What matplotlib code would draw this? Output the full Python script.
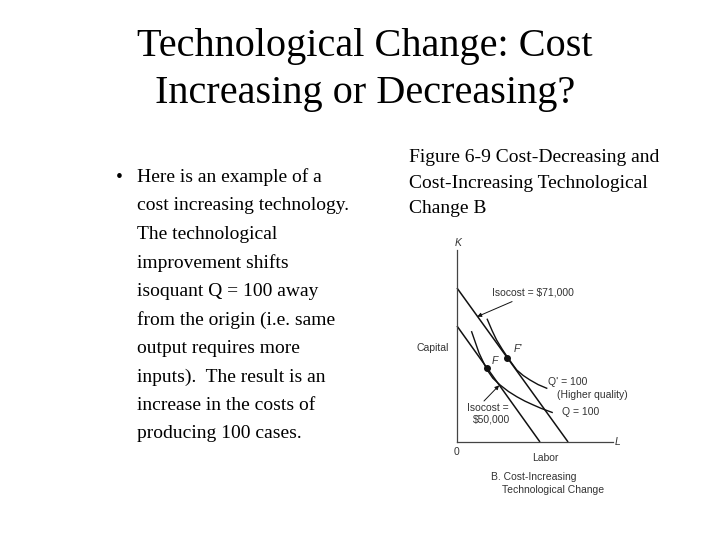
import matplotlib
matplotlib.use("Agg")
import matplotlib.pyplot as plt

# ---------------- data ----------------
title_lines = ["Technological Change: Cost", "Increasing or Decreasing?"]
bullet_lines = ["Here is an example of a", "cost increasing technology.", "The technological",
                "improvement shifts", "isoquant Q = 100 away", "from the origin (i.e. same",
                "output requires more", "inputs).  The result is an", "increase in the costs of",
                "producing 100 cases."]
caption_lines = ["Figure 6-9 Cost-Decreasing and", "Cost-Increasing Technological", "Change B"]

# isocost lines: (labor intercept, capital intercept)
iso71_L = [0, 71.2]
iso71_K = [80.2, 0]
iso50_L = [0, 53.2]
iso50_K = [60.4, 0]

# isoquants
q_L = [9.4, 14.1, 19.0, 23.0, 27.6, 33.0, 38.3, 43.5, 48.9, 54.0, 61.0]
q_K = [57.4, 46.4, 37.9, 33.2, 29.7, 26.3, 23.6, 21.3, 19.3, 17.5, 15.4]
qp_L = [19.4, 22.5, 25.4, 29.0, 32.2, 35.5, 38.3, 42.5, 46.8, 52.0, 57.5]
qp_K = [63.9, 58.0, 53.1, 48.3, 44.4, 40.6, 37.5, 34.6, 32.3, 29.9, 28.0]

# tangency points
F_pt = (19.0, 38.3)
Fp_pt = (32.2, 44.0)

W, H = 720, 540
fig = plt.figure(figsize=(7.2, 5.4), dpi=100)
fig.patch.set_facecolor("white")

def fx(x):
    return x / W

def fy(y):
    return 1 - y / H

serif = "Liberation Serif"
sans = "Liberation Sans"

# title
title_base = [56, 103.5]
for t, yb in zip(title_lines, title_base):
    fig.text(fx(365), fy(yb), t, ha="center", va="baseline", fontsize=29,
             family=serif, color="black")

# bullet
fig.text(fx(116), fy(182), "\u2022", ha="left", va="baseline", fontsize=14,
         family=serif, color="black")
for i, t in enumerate(bullet_lines):
    fig.text(fx(137), fy(182 + 28.5 * i), t, ha="left", va="baseline", fontsize=14,
             family=serif, color="black")

# caption
for i, t in enumerate(caption_lines):
    fig.text(fx(409), fy(162 + 25.5 * i), t, ha="left", va="baseline", fontsize=14,
             family=serif, color="black")

# diagram axes
x0, x1, yb0, yt0 = 457, 613, 442, 250
ax = fig.add_axes([fx(x0), fy(yb0), (x1 - x0) / W, (yb0 - yt0) / H])
ax.set_xlim(0, 100)
ax.set_ylim(0, 100)
ax.set_facecolor("none")
for s in ["top", "right"]:
    ax.spines[s].set_visible(False)
for s in ["left", "bottom"]:
    ax.spines[s].set_color("#444444")
    ax.spines[s].set_linewidth(0.9)
ax.set_xticks([])
ax.set_yticks([])

lc = "#111111"
ax.plot(iso71_L, iso71_K, color=lc, lw=1.1, solid_capstyle="butt", clip_on=False)
ax.plot(iso50_L, iso50_K, color=lc, lw=1.1, solid_capstyle="butt", clip_on=False)
ax.plot(q_L, q_K, color=lc, lw=1.0)
ax.plot(qp_L, qp_K, color=lc, lw=1.0)
ax.plot([F_pt[0], Fp_pt[0]], [F_pt[1], Fp_pt[1]], "o", color=lc, ms=4, ls="none")

tc = "#333333"
fs = 7.5
# axis labels
fig.text(fx(458), fy(243), "K", ha="center", va="center", fontsize=fs, style="italic",
         family=sans, color=tc)
fig.text(fx(618), fy(442), "L", ha="center", va="center", fontsize=fs, style="italic",
         family=sans, color=tc)
fig.text(fx(457), fy(452), "0", ha="center", va="center", fontsize=fs, family=sans, color=tc)
fig.text(fx(545.7), fy(458.3), "Labor", ha="center", va="center", fontsize=fs, family=sans, color=tc)
fig.text(fx(432.3), fy(347.7), "Capital", ha="center", va="center", fontsize=fs, family=sans, color=tc)
fig.text(fx(490.7), fy(476.7), "B. Cost-Increasing", ha="left", va="center", fontsize=fs,
         family=sans, color=tc)
fig.text(fx(501.7), fy(490), "Technological Change", ha="left", va="center", fontsize=fs,
         family=sans, color=tc)

# point labels
fig.text(fx(495), fy(361), "F", ha="center", va="center", fontsize=fs, style="italic",
         family=sans, color=tc)
fig.text(fx(518), fy(349), "F'", ha="center", va="center", fontsize=fs, style="italic",
         family=sans, color=tc)

# curve labels
fig.text(fx(548.3), fy(381.7), "Q' = 100", ha="left", va="center", fontsize=fs,
         family=sans, color=tc)
fig.text(fx(556.7), fy(395), "(Higher quality)", ha="left", va="center", fontsize=fs,
         family=sans, color=tc)
fig.text(fx(561.7), fy(412.3), "Q = 100", ha="left", va="center", fontsize=fs,
         family=sans, color=tc)

# isocost annotations
ax.annotate("Isocost = $71,000", xy=(13.0, 65.3), xycoords="data",
            xytext=(fx(491.7), fy(292.7)), textcoords="figure fraction",
            ha="left", va="center", fontsize=fs, family=sans, color=tc,
            arrowprops=dict(arrowstyle="-|>", color=lc, lw=0.7, mutation_scale=6,
                            shrinkA=2, shrinkB=0))
fig.text(fx(466.7), fy(408.3), "Isocost =", ha="left", va="center", fontsize=fs,
         family=sans, color=tc)
ax.annotate("", xy=(27.0, 29.5), xycoords="data",
            xytext=(fx(484), fy(401)), textcoords="figure fraction",
            arrowprops=dict(arrowstyle="-|>", color=lc, lw=0.7, mutation_scale=6,
                            shrinkA=0, shrinkB=0))
fig.text(fx(472.7), fy(420), "$50,000", ha="left", va="center", fontsize=fs,
         family=sans, color=tc)

fig.savefig("out.png", dpi=100, facecolor="white")
